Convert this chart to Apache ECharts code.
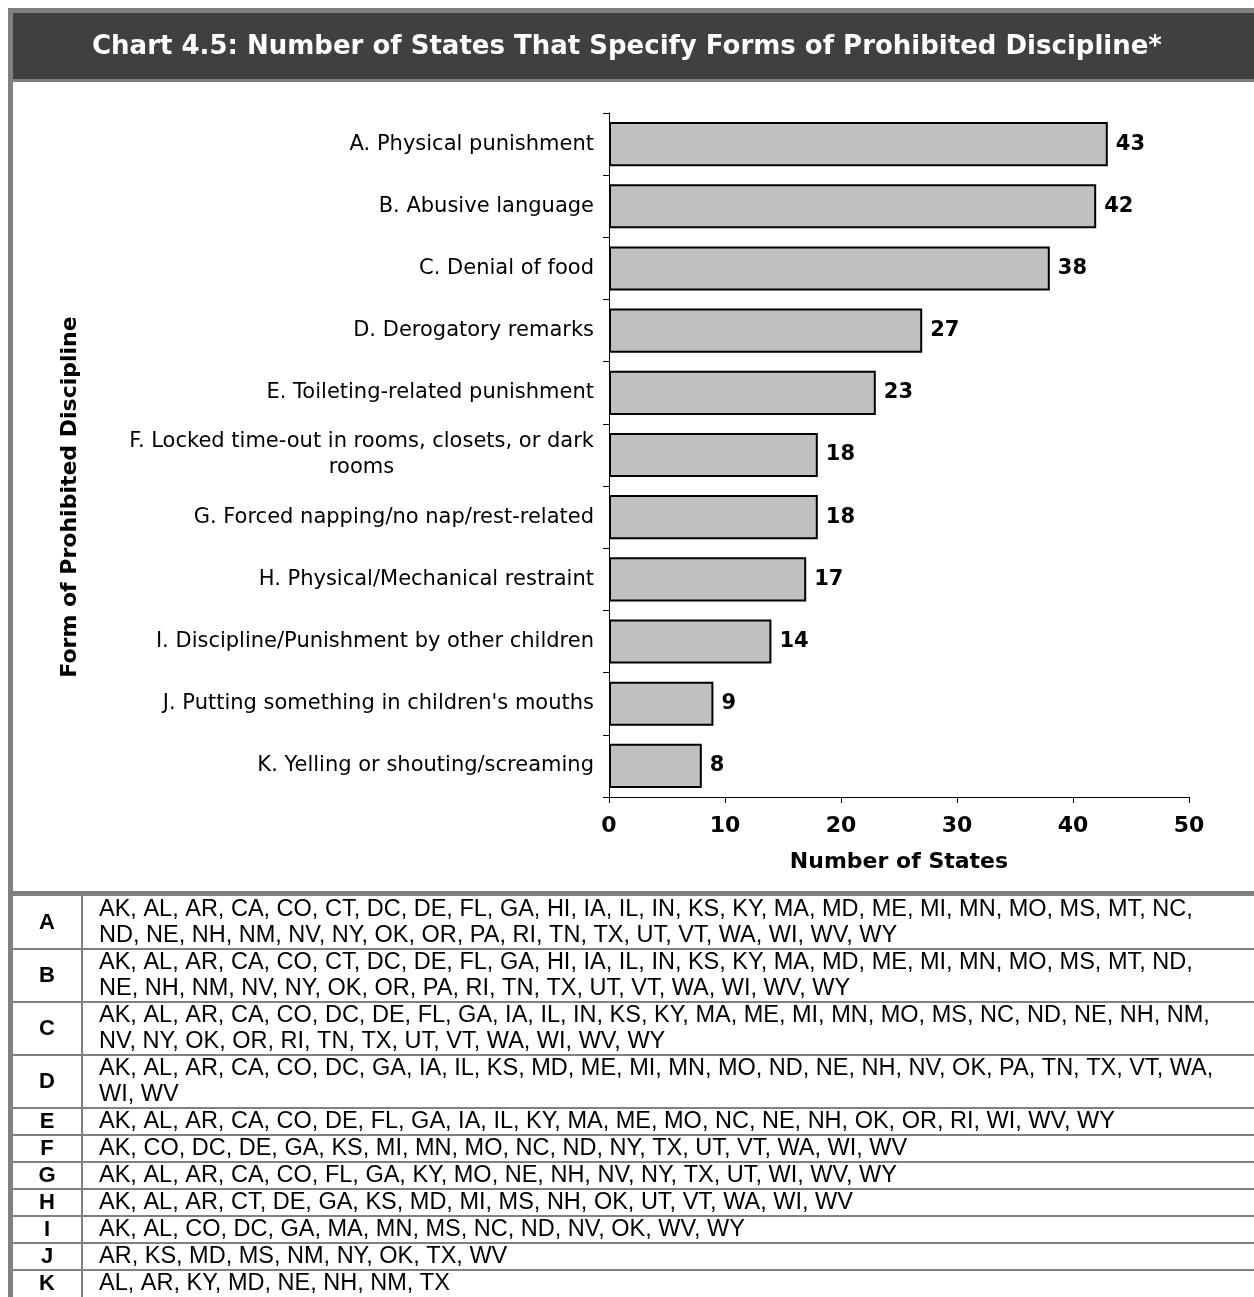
<!DOCTYPE html>
<html>
<head>
<meta charset="utf-8">
<script src="https://cdn.jsdelivr.net/npm/echarts@6/dist/echarts.min.js"></script>
<style>
  html, body { margin: 0; padding: 0; background: #fff; }
  #chart { width: 1254px; height: 1297px; }
</style>
</head>
<body>
<div id="chart"></div>
<script>
// data
var categories = [
  "A. Physical punishment",
  "B. Abusive language",
  "C. Denial of food",
  "D. Derogatory remarks",
  "E. Toileting-related punishment",
  "F. Locked time-out in rooms, closets, or dark\nrooms",
  "G. Forced napping/no nap/rest-related",
  "H. Physical/Mechanical restraint",
  "I. Discipline/Punishment by other children",
  "J. Putting something in children's mouths",
  "K. Yelling or shouting/screaming"
];
var stateCounts = [43, 42, 38, 27, 23, 18, 18, 17, 14, 9, 8];
var xMin = 0, xMax = 50, xStep = 10;

var rowLetters = ["A", "B", "C", "D", "E", "F", "G", "H", "I", "J", "K"];
var stateLists = [
  "AK, AL, AR, CA, CO, CT, DC, DE, FL, GA, HI, IA, IL, IN, KS, KY, MA, MD, ME, MI, MN, MO, MS, MT, NC, ND, NE, NH, NM, NV, NY, OK, OR, PA, RI, TN, TX, UT, VT, WA, WI, WV, WY",
  "AK, AL, AR, CA, CO, CT, DC, DE, FL, GA, HI, IA, IL, IN, KS, KY, MA, MD, ME, MI, MN, MO, MS, MT, ND, NE, NH, NM, NV, NY, OK, OR, PA, RI, TN, TX, UT, VT, WA, WI, WV, WY",
  "AK, AL, AR, CA, CO, DC, DE, FL, GA, IA, IL, IN, KS, KY, MA, ME, MI, MN, MO, MS, NC, ND, NE, NH, NM, NV, NY, OK, OR, RI, TN, TX, UT, VT, WA, WI, WV, WY",
  "AK, AL, AR, CA, CO, DC, GA, IA, IL, KS, MD, ME, MI, MN, MO, ND, NE, NH, NV, OK, PA, TN, TX, VT, WA, WI, WV",
  "AK, AL, AR, CA, CO, DE, FL, GA, IA, IL, KY, MA, ME, MO, NC, NE, NH, OK, OR, RI, WI, WV, WY",
  "AK, CO, DC, DE, GA, KS, MI, MN, MO, NC, ND, NY, TX, UT, VT, WA, WI, WV",
  "AK, AL, AR, CA, CO, FL, GA, KY, MO, NE, NH, NV, NY, TX, UT, WI, WV, WY",
  "AK, AL, AR, CT, DE, GA, KS, MD, MI, MS, NH, OK, UT, VT, WA, WI, WV",
  "AK, AL, CO, DC, GA, MA, MN, MS, NC, ND, NV, OK, WV, WY",
  "AR, KS, MD, MS, NM, NY, OK, TX, WV",
  "AL, AR, KY, MD, NE, NH, NM, TX"
];

var titleText = "Chart 4.5: Number of States That Specify Forms of Prohibited Discipline*";

// fonts / colours
var labelFont = '"DejaVu Sans", Verdana, sans-serif';
var tableFont = '"Liberation Sans", Arial, sans-serif';
var frameGray = "#808080";

var ctx = document.createElement("canvas").getContext("2d");
function measure(text, font) {
  ctx.font = font;
  return ctx.measureText(text).width;
}

// wrap a comma list into lines no wider than maxW
function wrapList(str, font, maxW) {
  var items = str.split(", ");
  var lines = [];
  var cur = "";
  for (var i = 0; i < items.length; i++) {
    var piece = items[i] + (i < items.length - 1 ? "," : "");
    var test = cur ? cur + " " + piece : piece;
    if (cur && measure(test, font) > maxW) {
      lines.push(cur);
      cur = piece;
    } else {
      cur = test;
    }
  }
  if (cur) lines.push(cur);
  return lines;
}

var myChart = echarts.init(document.getElementById("chart"));

// frame, title bar
var graphics = [
  { type: "rect", shape: { x: 8, y: 8, width: 1246, height: 5 }, style: { fill: frameGray } },
  { type: "rect", shape: { x: 8, y: 8, width: 5, height: 1289 }, style: { fill: frameGray } },
  { type: "rect", shape: { x: 13, y: 13, width: 1241, height: 66 }, style: { fill: "#404040" } },
  { type: "rect", shape: { x: 13, y: 79, width: 1241, height: 3 }, style: { fill: frameGray } },
  {
    type: "text", x: 627, y: 47,
    style: {
      text: titleText, fill: "#fff", align: "center", verticalAlign: "middle",
      fontFamily: labelFont, fontWeight: "bold", fontSize: 26
    }
  },
  {
    type: "text", x: 70, y: 497, rotation: Math.PI / 2,
    style: {
      text: "Form of Prohibited Discipline", fill: "#000", align: "center", verticalAlign: "middle",
      fontFamily: labelFont, fontWeight: "bold", fontSize: 22
    }
  }
];

// table
var tFontSize = 23.5;
var tFontStr = tFontSize + "px " + tableFont;
var tableTop = 891;
graphics.push({ type: "rect", shape: { x: 13, y: tableTop, width: 1241, height: 5 }, style: { fill: frameGray } });
var rowY = tableTop + 5;
for (var r = 0; r < rowLetters.length; r++) {
  var lines = wrapList(stateLists[r], tFontStr, 1128);
  var h = 27 + 26 * (lines.length - 1);
  graphics.push({
    type: "text", x: 47, y: rowY + h / 2,
    style: {
      text: rowLetters[r], fill: "#000", align: "center", verticalAlign: "middle",
      fontFamily: tableFont, fontWeight: "bold", fontSize: 22
    }
  });
  graphics.push({
    type: "text", x: 99, y: rowY + h / 2,
    style: {
      text: lines.join("\n"), fill: "#000", align: "left", verticalAlign: "middle",
      fontFamily: tableFont, fontSize: tFontSize, lineHeight: 26
    }
  });
  graphics.push({ type: "rect", shape: { x: 81, y: rowY, width: 2, height: h }, style: { fill: frameGray } });
  rowY += h;
  if (r < rowLetters.length - 1) {
    graphics.push({ type: "rect", shape: { x: 13, y: rowY - 1, width: 1241, height: 2 }, style: { fill: frameGray } });
  }
}

// F label: second line centred under the first
var yLabelSize = 21;
var yLabelFont = yLabelSize + "px " + labelFont;
var richStyles = {};
function labelFormatter(value, idx) {
  if (value.indexOf("\n") < 0) return value;
  var parts = value.split("\n");
  var w = Math.ceil(measure(parts[0], yLabelFont));
  richStyles["c" + idx] = { width: w, align: "center", fontSize: yLabelSize, fontFamily: labelFont, color: "#000", lineHeight: 26 };
  return "{t|" + parts[0] + "}\n{c" + idx + "|" + parts[1] + "}";
}
// pre-build the rich styles
categories.forEach(function (c, i) { labelFormatter(c, i); });
richStyles.t = { fontSize: yLabelSize, fontFamily: labelFont, color: "#000", lineHeight: 26 };

var option = {
  animation: false,
  backgroundColor: "#fff",
  grid: { left: 609, top: 113, width: 580, height: 684, containLabel: false },
  xAxis: {
    type: "value",
    min: xMin,
    max: xMax,
    interval: xStep,
    name: "Number of States",
    nameLocation: "middle",
    nameGap: 54,
    nameTextStyle: { color: "#000", fontFamily: labelFont, fontWeight: "bold", fontSize: 22 },
    axisLine: { show: true, lineStyle: { color: "#000", width: 1 } },
    axisTick: { show: true, length: 6, lineStyle: { color: "#000" } },
    splitLine: { show: false },
    axisLabel: { color: "#000", fontFamily: labelFont, fontWeight: "bold", fontSize: 22, margin: 18 }
  },
  yAxis: {
    type: "category",
    inverse: true,
    data: categories,
    axisLine: { show: true, lineStyle: { color: "#000", width: 1 } },
    axisTick: { show: true, length: 6, lineStyle: { color: "#000" } },
    axisLabel: {
      color: "#000", fontFamily: labelFont, fontSize: yLabelSize, margin: 15, lineHeight: 26,
      formatter: labelFormatter,
      rich: richStyles
    }
  },
  series: [
    {
      type: "bar",
      data: stateCounts,
      barWidth: "71%",
      itemStyle: { color: "#c0c0c0", borderColor: "#000", borderWidth: 2 },
      label: {
        show: true, position: "right", distance: 8,
        color: "#000", fontFamily: labelFont, fontWeight: "bold", fontSize: 21
      }
    }
  ],
  graphic: graphics
};

myChart.setOption(option);
</script>
</body>
</html>
